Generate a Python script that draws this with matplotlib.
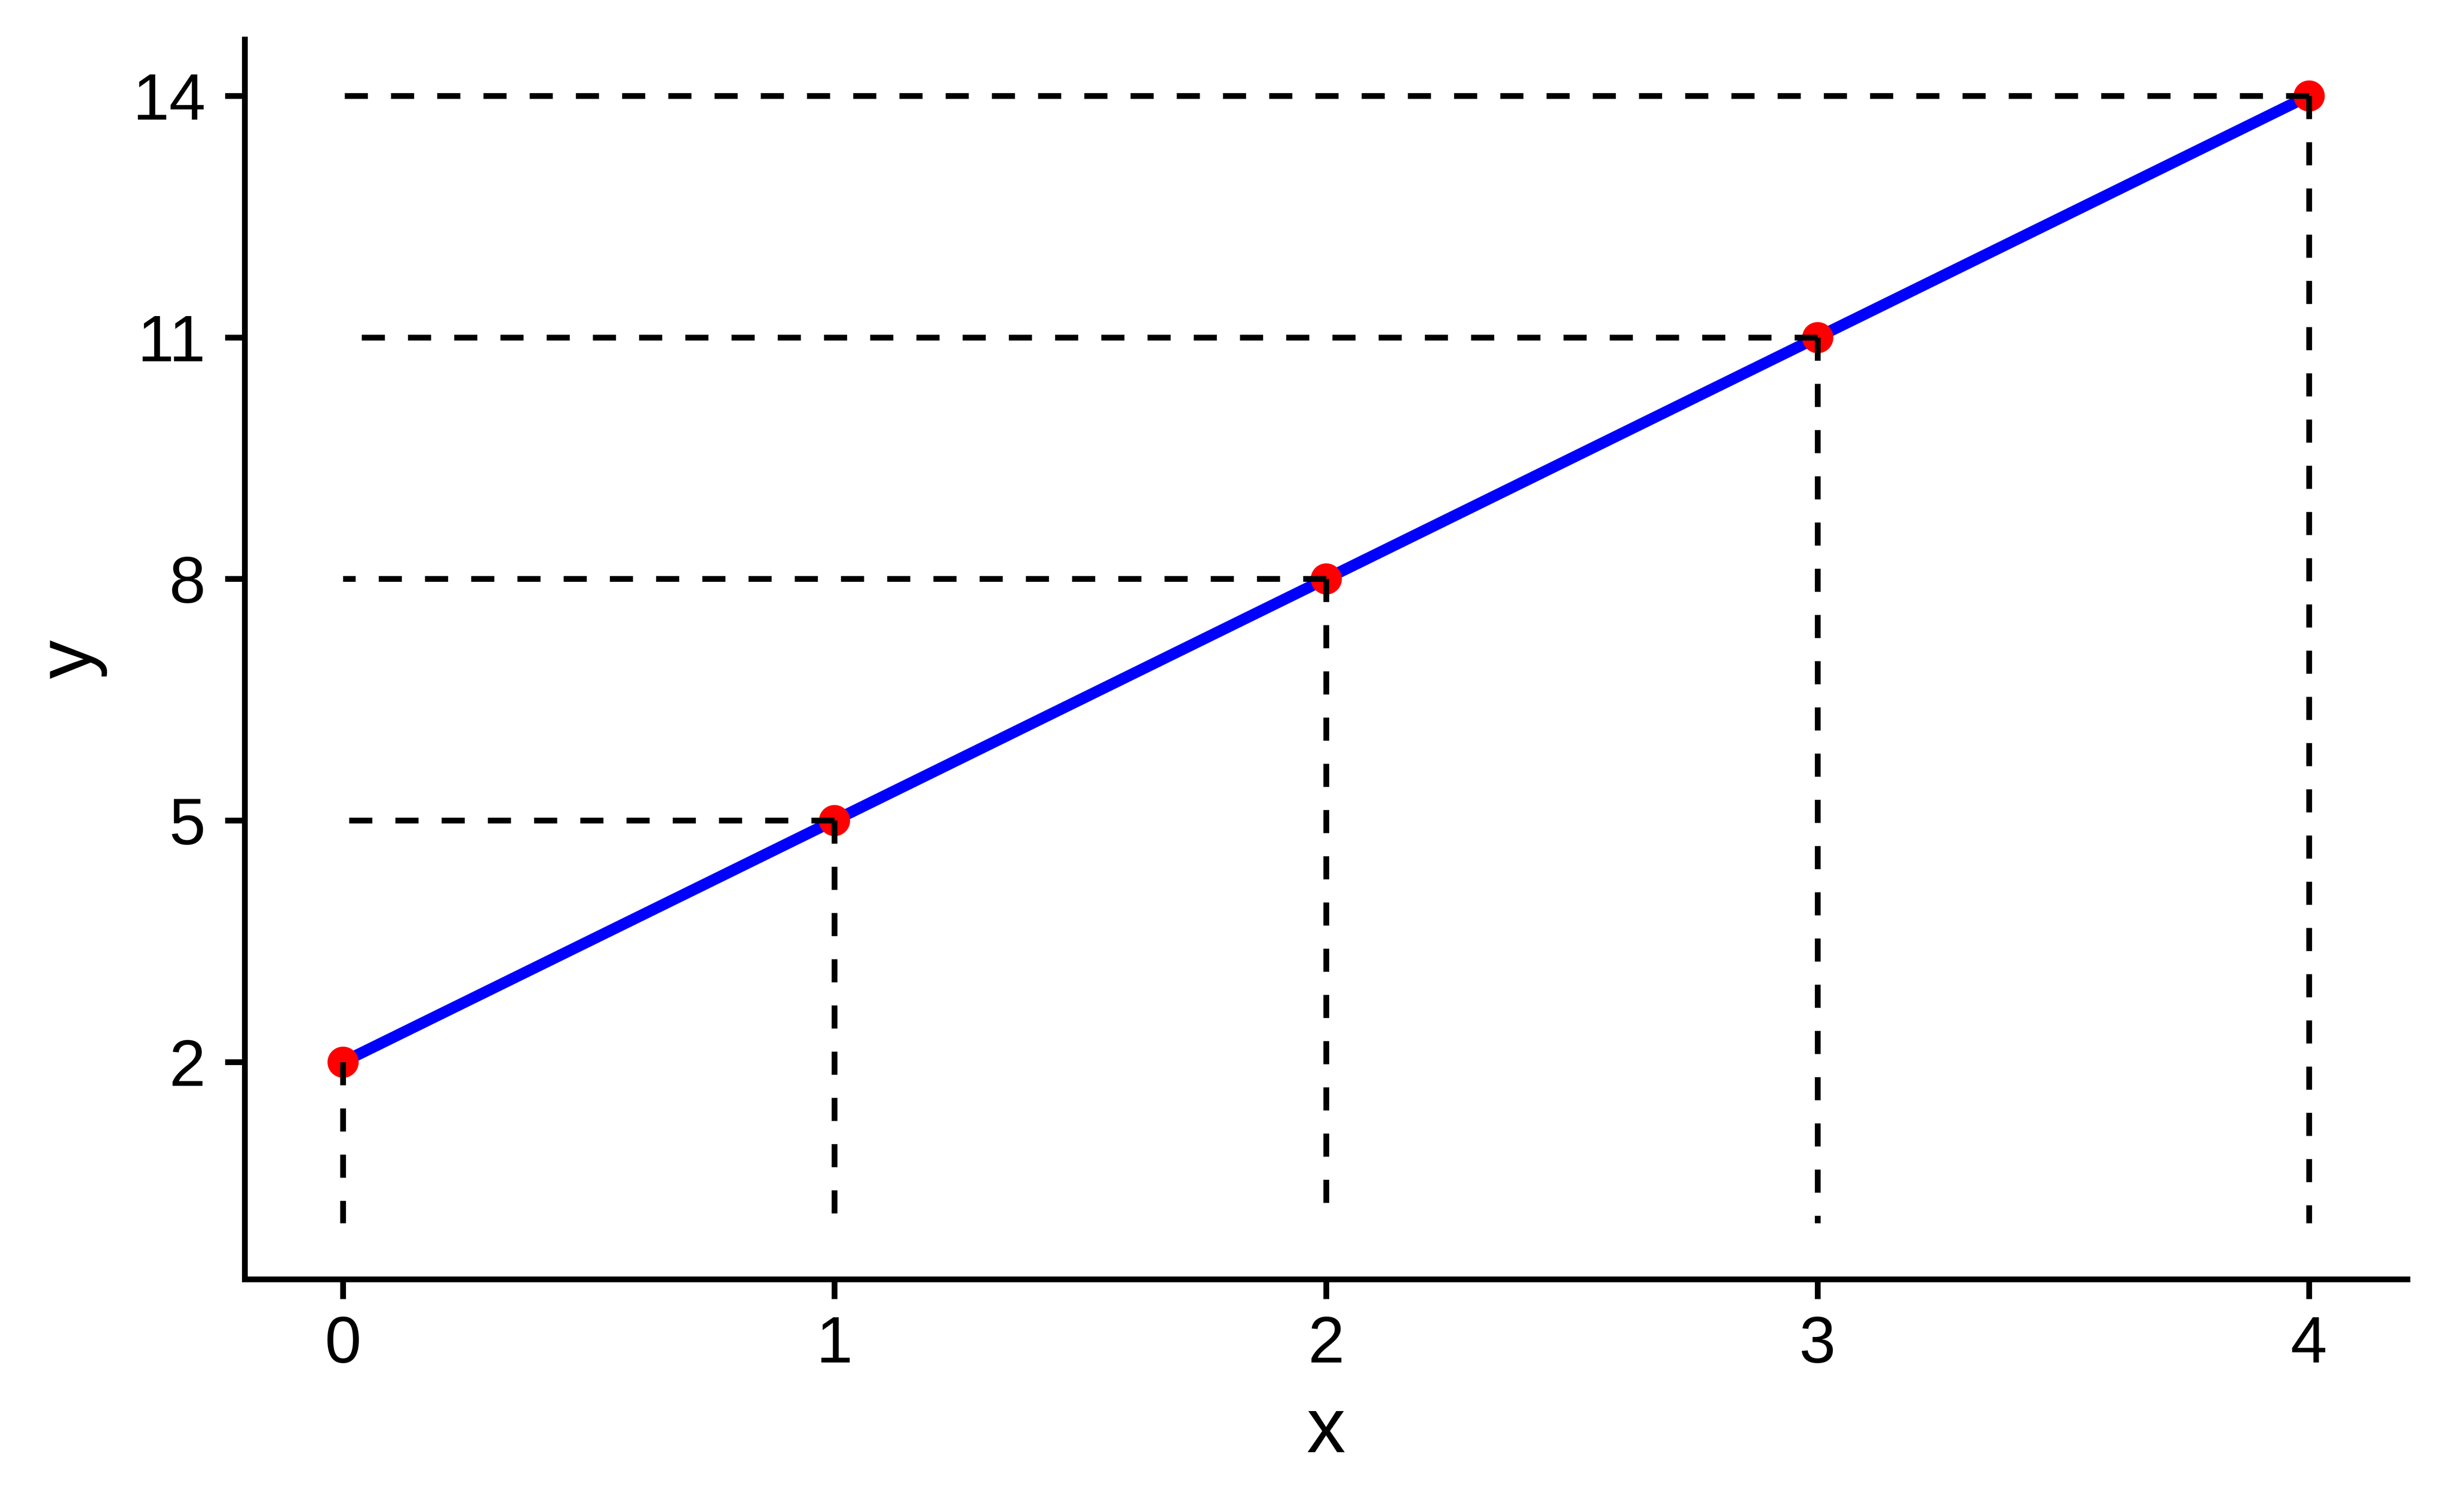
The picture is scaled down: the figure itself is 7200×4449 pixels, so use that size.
import matplotlib
matplotlib.use("Agg")
import matplotlib.pyplot as plt

# data
x = [0, 1, 2, 3, 4]
y = [2, 5, 8, 11, 14]
x_ticks = [0, 1, 2, 3, 4]
y_ticks = [2, 5, 8, 11, 14]

plt.rcParams['font.family'] = ['Liberation Sans', 'DejaVu Sans']

fig = plt.figure(figsize=(12, 7.415), dpi=600)
ax = fig.add_axes([0.1, 0.15386, 0.88375, 0.82007])

# blue line, then the red points
ax.plot(x, y, color='#0000FF', linewidth=4.0, solid_capstyle='butt', zorder=2)
ax.plot(x, y, linestyle='none', marker='o', markersize=11.0,
        markerfacecolor='#FF0000', markeredgewidth=0, zorder=3)

# dashed guides, drawn from the point outwards so the dashes start at the point
for xi, yi in zip(x, y):
    ax.plot([xi, xi], [yi, 0], color='black', linewidth=2.04,
            linestyle=(0, (4, 4)), zorder=4)
    ax.plot([xi, 0], [yi, yi], color='black', linewidth=2.04,
            linestyle=(0, (4, 4)), zorder=4)

ax.set_xlim(-0.2, 4.2)
ax.set_ylim(-0.7, 14.7)
ax.set_xticks(x_ticks)
ax.set_yticks(y_ticks)

# classic look: only left and bottom axis lines
for side in ['top', 'right']:
    ax.spines[side].set_visible(False)
for side in ['left', 'bottom']:
    ax.spines[side].set_linewidth(2.04)
    ax.spines[side].set_capstyle('projecting')

ax.tick_params(axis='both', length=7.0, width=2.04, labelsize=23.2,
               colors='black')
ax.tick_params(axis='x', pad=5.5)
ax.tick_params(axis='y', pad=6.8)

ax.set_xlabel('x', fontsize=27.4, labelpad=7)
ax.set_ylabel('y', fontsize=27.4, labelpad=9)

fig.savefig('out.png', dpi=600, facecolor='white')
